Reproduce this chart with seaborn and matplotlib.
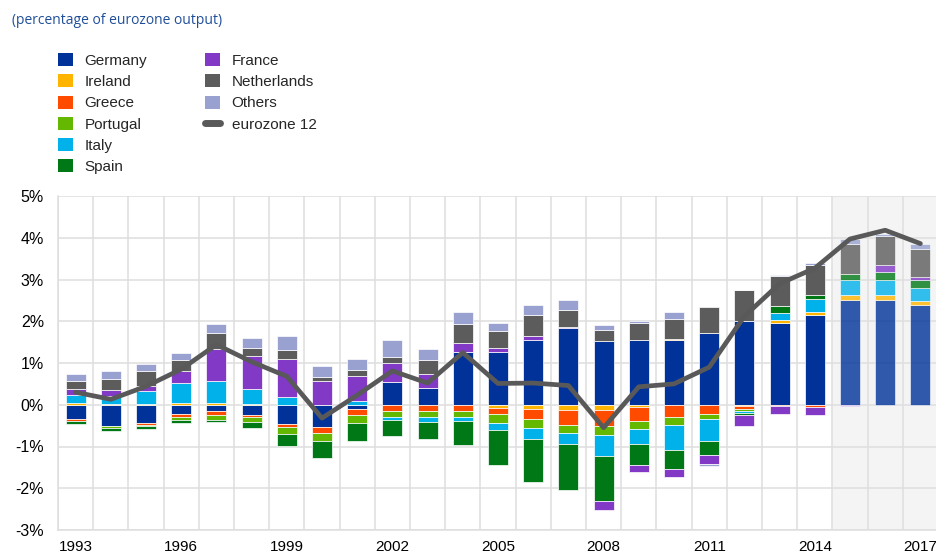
import matplotlib

matplotlib.use("Agg")
import matplotlib.pyplot as plt
import numpy as np
import pandas as pd
import seaborn as sns
from matplotlib.lines import Line2D
from matplotlib.patches import Patch

# ----------------------------------------------------------------------
# Data (percentage of eurozone output)
# ----------------------------------------------------------------------

years = list(range(1993, 2018))

germany = [-0.35, -0.51, -0.43, -0.21, -0.16, -0.24, -0.46, -0.54, -0.11, 0.54,
           0.40, 1.26, 1.26, 1.54, 1.84, 1.52, 1.54, 1.54, 1.71, 2.00,
           1.96, 2.15, 2.52, 2.52, 2.40]
ireland = [0.03, 0.02, 0.02, 0.03, 0.03, 0.01, 0.00, 0.00, 0.00, 0.00,
           0.00, 0.00, -0.07, -0.09, -0.12, -0.12, -0.06, 0.03, 0.02, -0.02,
           0.08, 0.08, 0.11, 0.11, 0.09]
greece = [-0.03, -0.01, -0.05, -0.08, -0.09, -0.05, -0.07, -0.13, -0.13, -0.15,
          -0.15, -0.14, -0.16, -0.24, -0.36, -0.38, -0.33, -0.29, -0.22, -0.08,
          -0.04, -0.05, 0.00, 0.00, 0.00]
portugal = [-0.01, -0.04, -0.02, -0.08, -0.11, -0.13, -0.16, -0.20, -0.20, -0.15,
            -0.15, -0.16, -0.21, -0.22, -0.20, -0.22, -0.20, -0.20, -0.12, -0.04,
            0.00, 0.00, 0.00, 0.00, 0.00]
italy = [0.20, 0.20, 0.32, 0.50, 0.53, 0.37, 0.19, 0.00, 0.10, -0.07,
         -0.12, -0.08, -0.16, -0.28, -0.25, -0.50, -0.34, -0.59, -0.53, -0.05,
         0.16, 0.31, 0.36, 0.36, 0.31]
spain = [-0.07, -0.08, -0.08, -0.06, -0.05, -0.14, -0.29, -0.41, -0.42, -0.38,
         -0.39, -0.59, -0.84, -1.02, -1.12, -1.08, -0.51, -0.45, -0.34, -0.05,
         0.16, 0.10, 0.14, 0.20, 0.19]
france = [0.15, 0.13, 0.10, 0.27, 0.78, 0.79, 0.90, 0.56, 0.58, 0.46,
          0.34, 0.23, 0.11, 0.10, 0.02, -0.21, -0.17, -0.19, -0.22, -0.26,
          -0.18, -0.19, -0.03, 0.15, 0.07]
netherlands = [0.20, 0.26, 0.36, 0.27, 0.38, 0.18, 0.23, 0.11, 0.16, 0.15,
               0.34, 0.45, 0.40, 0.52, 0.41, 0.26, 0.41, 0.48, 0.61, 0.74,
               0.73, 0.71, 0.72, 0.71, 0.68]
others = [0.16, 0.19, 0.17, 0.16, 0.21, 0.24, 0.33, 0.27, 0.25, 0.40,
          0.25, 0.28, 0.19, 0.24, 0.23, 0.13, 0.05, 0.17, -0.03, 0.00,
          0.02, 0.04, 0.12, 0.05, 0.12]
eurozone12 = [0.30, 0.13, 0.44, 0.85, 1.44, 1.03, 0.68, -0.32, 0.23, 0.81,
              0.52, 1.25, 0.51, 0.52, 0.46, -0.55, 0.43, 0.50, 0.90, 2.12,
              2.90, 3.27, 3.97, 4.18, 3.86]

series = [
    ("Germany", germany, "#003299"),
    ("Ireland", ireland, "#FFB400"),
    ("Greece", greece, "#FF4B00"),
    ("Portugal", portugal, "#65B800"),
    ("Italy", italy, "#00B1EA"),
    ("Spain", spain, "#007816"),
    ("France", france, "#8139C6"),
    ("Netherlands", netherlands, "#5C5C5C"),
    ("Others", others, "#98A1D0"),
]
LINE_COLOR = "#595959"
FORECAST_START = 2015

# ----------------------------------------------------------------------
# Figure
# ----------------------------------------------------------------------

sns.set_theme(style="white")
plt.rcParams["font.family"] = ["Liberation Sans", "DejaVu Sans"]

fig = plt.figure(figsize=(9.36, 5.57), dpi=100)
ax = fig.add_axes([58 / 936, 1 - 530 / 557, 880 / 936, 334 / 557])

x = np.arange(len(years))
forecast = np.array(years) >= FORECAST_START
ax.axvspan(x[forecast][0] - 0.5, x[-1] + 0.5, color="#f4f4f4", zorder=0, lw=0)

pos_bottom = np.zeros(len(years))
neg_bottom = np.zeros(len(years))
for name, values, color in series:
    v = np.array(values)
    bottom = np.where(v >= 0, pos_bottom, neg_bottom)
    for mask, alpha in ((~forecast, 1.0), (forecast, 0.8)):
        ax.bar(x[mask], v[mask], bottom=bottom[mask], width=0.57, color=color,
               alpha=alpha, edgecolor=(1, 1, 1, 0.45), linewidth=0.5, zorder=2)
    pos_bottom += np.clip(v, 0, None)
    neg_bottom += np.clip(v, None, 0)

line_df = pd.DataFrame({"x": x, "value": eurozone12})
sns.lineplot(data=line_df, x="x", y="value", ax=ax, color=LINE_COLOR,
             linewidth=3.4, zorder=4)

ax.set_xlim(-0.5, len(years) - 0.5)
ax.set_ylim(-3, 5)
ax.set_yticks(range(-3, 6))
ax.set_yticklabels([f"{v}%" for v in range(-3, 6)])
ax.set_xticks(x[::3])
ax.set_xticklabels([str(y) for y in years[::3]])
ax.set_xticks(np.arange(-0.5, len(years), 1.0), minor=True)
ax.set_xlabel("")
ax.set_ylabel("")

ax.grid(True, axis="y", which="major", color="#dedede", linewidth=1.1)
ax.grid(True, axis="x", which="minor", color="#dedede", linewidth=1.1)
ax.set_axisbelow(True)
ax.tick_params(axis="both", which="both", length=0, labelsize=11.5,
               labelcolor="#000000")
ax.tick_params(axis="y", pad=10)
ax.tick_params(axis="x", pad=7, labelsize=11)
for side in ["top", "right"]:
    ax.spines[side].set_visible(False)
for side in ["left", "bottom"]:
    ax.spines[side].set_color("#dedede")
    ax.spines[side].set_linewidth(1.1)

fig.text(12 / 936, 1 - 20 / 557, "(percentage of eurozone output)",
         color="#1F4E9A", fontsize=10, va="center", ha="left",
         family=["Open Sans", "DejaVu Sans"])

# Legend in two columns of unequal length
handles = [Patch(facecolor=c, edgecolor="none", label=n) for n, _, c in series]
handles.append(Line2D([0], [0], color=LINE_COLOR, lw=5, label="eurozone 12"))
legend_kw = dict(loc="upper left", frameon=False, fontsize=11,
                 handlelength=0.95, handleheight=0.95, handletextpad=0.8,
                 labelspacing=0.42, borderpad=0, borderaxespad=0)
fig.legend(handles=handles[:6], bbox_to_anchor=(58 / 936, 1 - 53 / 557), **legend_kw)
fig.legend(handles=handles[6:], bbox_to_anchor=(205 / 936, 1 - 53 / 557), **legend_kw)

fig.savefig("out.png", dpi=100)
